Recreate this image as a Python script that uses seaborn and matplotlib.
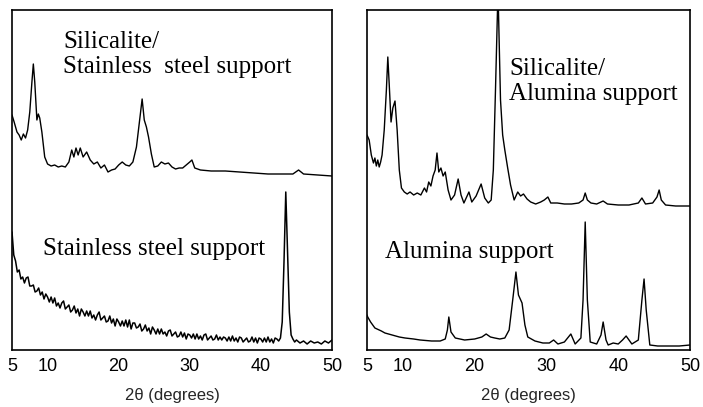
import matplotlib
matplotlib.use("Agg")
import matplotlib.pyplot as plt
import seaborn as sns
import pandas as pd

# ---- data (2theta in degrees, intensity in arbitrary units) ----
ss_sil_theta = [5.0, 5.3, 5.7, 6.0, 6.3, 6.6, 6.9, 7.2, 7.5, 7.8, 8.0, 8.2, 8.5, 8.7, 8.9, 9.2, 9.6,
                10.0, 10.5, 11.0, 11.5, 12.0, 12.5, 13.0, 13.4, 13.7, 14.0, 14.3, 14.6, 15.0, 15.5,
                16.0, 16.5, 17.0, 17.5, 18.0, 18.5, 19.0, 19.5, 20.0, 20.5, 21.0, 21.5, 22.0, 22.5,
                23.0, 23.3, 23.6, 23.9, 24.2, 24.6, 25.0, 25.5, 26.0, 26.5, 27.0, 27.5, 28.0, 28.5,
                29.0, 29.5, 30.0, 30.3, 30.7, 31.5, 33.0, 35.0, 37.0, 39.0, 41.0, 43.0, 44.5, 45.3,
                46.0, 48.0, 50.0]
ss_sil_int = [235, 228, 218, 215, 210, 216, 212, 220, 238, 268, 286, 268, 230, 236, 232, 218, 193,
              186, 184, 185, 183, 184, 183, 188, 200, 193, 202, 195, 202, 193, 198,
              190, 186, 188, 182, 185, 178, 180, 181, 185, 188, 185, 184, 188, 203,
              233, 251, 230, 223, 213, 196, 183, 184, 188, 186, 187, 183, 181, 182,
              182, 185, 188, 190, 182, 180, 179, 179, 178, 177, 176, 176, 176, 180,
              176, 175, 174]

ss_theta = [5.0, 5.25, 5.5, 5.75, 6.0, 6.25, 6.5, 6.75, 7.0, 7.25, 7.5, 7.75, 8.0, 8.25, 8.5, 8.75,
            9.0, 9.25, 9.5, 9.75, 10.0, 10.25, 10.5, 10.75, 11.0, 11.25, 11.5, 11.75, 12.0, 12.25,
            12.5, 12.75, 13.0, 13.25, 13.5, 13.75, 14.0, 14.25, 14.5, 14.75, 15.0, 15.25, 15.5,
            15.75, 16.0, 16.25, 16.5, 16.75, 17.0, 17.25, 17.5, 17.75, 18.0, 18.25, 18.5, 18.75,
            19.0, 19.25, 19.5, 19.75, 20.0, 20.25, 20.5, 20.75, 21.0, 21.25, 21.5, 21.75, 22.0,
            22.25, 22.5, 22.75, 23.0, 23.25, 23.5, 23.75, 24.0, 24.25, 24.5, 24.75, 25.0, 25.25,
            25.5, 25.75, 26.0, 26.25, 26.5, 26.75, 27.0, 27.25, 27.5, 27.75, 28.0, 28.25, 28.5,
            28.75, 29.0, 29.25, 29.5, 29.75, 30.0, 30.25, 30.5, 30.75, 31.0, 31.25, 31.5, 31.75,
            32.0, 32.25, 32.5, 32.75, 33.0, 33.25, 33.5, 33.75, 34.0, 34.25, 34.5, 34.75, 35.0,
            35.25, 35.5, 35.75, 36.0, 36.25, 36.5, 36.75, 37.0, 37.25, 37.5, 37.75, 38.0, 38.25,
            38.5, 38.75, 39.0, 39.25, 39.5, 39.75, 40.0, 40.25, 40.5, 40.75, 41.0, 41.25, 41.5,
            41.75, 42.0, 42.25, 42.5, 42.75, 43.0, 43.25, 43.5, 43.75, 44.0, 44.25, 44.5, 44.75,
            45.0, 45.5, 46.0, 46.5, 47.0, 47.5, 48.0, 48.5, 49.0, 49.5, 50.0]
ss_int = [118, 95, 89, 78, 80, 71, 73, 67, 72, 73, 64, 64, 65, 58, 59, 62,
          55, 58, 51, 56, 53, 48, 53, 47, 52, 44, 47, 42, 47, 49,
          41, 43, 45, 38, 40, 44, 37, 41, 34, 41, 38, 34, 39,
          34, 39, 32, 35, 30, 35, 38, 30, 32, 34, 28, 29, 34,
          27, 31, 24, 31, 28, 24, 29, 24, 30, 23, 30, 21, 27,
          27, 22, 23, 26, 19, 21, 25, 19, 22, 16, 23, 20, 16,
          21, 16, 21, 16, 18, 14, 19, 20, 14, 16, 18, 13, 14,
          18, 13, 17, 11, 16, 15, 12, 16, 11, 16, 11, 14, 10,
          15, 16, 10, 12, 14, 10, 11, 15, 10, 13, 10, 13, 12,
          9, 13, 9, 14, 9, 12, 8, 13, 12, 8, 10, 12, 8,
          9, 13, 8, 12, 7, 12, 11, 8, 12, 8, 13, 8, 11,
          7, 12, 11, 9, 12, 28, 88, 158, 98, 38, 15, 11, 8,
          10, 7, 9, 6, 9, 7, 8, 6, 9, 7, 10]

al_sil_theta = [5.0, 5.3, 5.6, 5.9, 6.1, 6.3, 6.5, 6.7, 6.9, 7.1, 7.4, 7.7, 7.9, 8.1, 8.35, 8.6, 8.9,
                9.2, 9.5, 9.8, 10.2, 10.6, 11.0, 11.5, 12.0, 12.5, 13.0, 13.3, 13.6, 13.9, 14.2,
                14.5, 14.75, 15.0, 15.3, 15.6, 15.9, 16.3, 16.7, 17.2, 17.7, 18.1, 18.5, 19.2,
                19.6, 20.2, 20.9, 21.4, 21.9, 22.3, 22.6, 22.9, 23.25, 23.6, 23.9, 24.2, 24.6,
                25.0, 25.5, 26.0, 26.4, 26.8, 27.3, 27.8, 28.5, 29.2, 29.7, 30.2, 30.6, 31.5,
                32.5, 33.5, 34.5, 35.1, 35.4, 35.7, 36.2, 37.0, 37.9, 38.5, 40.0, 41.5, 42.8,
                43.3, 43.8, 44.8, 45.4, 45.7, 46.0, 46.6, 48.0, 50.0]
al_sil_int = [215, 210, 195, 187, 192, 184, 190, 183, 188, 195, 220, 260, 293, 265, 228, 242, 249,
              220, 180, 162, 158, 156, 158, 155, 157, 155, 162, 158, 168, 164, 174,
              180, 197, 178, 182, 174, 178, 160, 150, 155, 171, 155, 147, 158,
              148, 154, 166, 152, 147, 150, 180, 260, 360, 250, 215, 200, 182,
              165, 150, 158, 154, 156, 151, 148, 146, 148, 150, 153, 147, 147,
              146, 146, 147, 150, 157, 150, 147, 146, 149, 146, 145, 145, 147,
              152, 146, 147, 153, 160, 150, 145, 144, 144]

al_theta = [5.0, 5.1, 5.5, 6.1, 7.0, 7.5, 8.5, 9.5, 10.3, 11.5, 12.4, 14.0, 15.2, 15.9, 16.2, 16.4,
            16.7, 17.3, 18.6, 20.0, 21.0, 21.6, 22.2, 22.8, 23.5, 24.2, 24.8, 25.3, 25.75, 26.1,
            26.6, 27.0, 27.4, 28.4, 29.5, 30.4, 31.0, 31.6, 32.5, 33.4, 34.0, 34.8, 35.1, 35.4,
            35.7, 36.1, 37.0, 37.6, 37.9, 38.3, 38.6, 39.3, 40.0, 40.6, 41.1, 41.9, 42.8, 43.3,
            43.6, 43.9, 44.4, 45.5, 47.0, 48.5, 50.0]
al_int = [35, 33, 28, 22, 19, 17, 15, 13, 12, 11, 10, 9, 9, 11, 20, 33,
          18, 12, 10, 11, 13, 16, 13, 12, 11, 12, 20, 50, 78, 55,
          47, 25, 13, 9, 7, 7, 10, 6, 8, 16, 6, 12, 50, 128,
          50, 8, 6, 15, 28, 10, 5, 7, 6, 10, 14, 6, 10, 50,
          71, 40, 5, 4, 4, 4, 5]

tick_values = [5, 10, 20, 30, 40, 50]
x_label = "2θ (degrees)"

W, H = 703, 407
fig = plt.figure(figsize=(W / 100, H / 100), dpi=100)
sns.set_style("white")
plt.rcParams['font.family'] = ['Liberation Sans', 'DejaVu Sans']

serif = ['Liberation Serif', 'DejaVu Serif']


def px_axes(x0, x1, y0, y1):
    return fig.add_axes([x0 / W, 1 - y1 / H, (x1 - x0) / W, (y1 - y0) / H])


axL = px_axes(12, 332, 10, 350)
axR = px_axes(367, 690, 10, 350)

for ax, series in ((axL, [(ss_sil_theta, ss_sil_int, 1.0), (ss_theta, ss_int, 1.1)]),
                   (axR, [(al_sil_theta, al_sil_int, 1.0), (al_theta, al_int, 1.0)])):
    for th, it, lw in series:
        df = pd.DataFrame({"theta": th, "intensity": it})
        sns.lineplot(data=df, x="theta", y="intensity", ax=ax, color="black",
                     linewidth=lw, sort=False, estimator=None)
    ax.set_xlim(5, 50)
    ax.set_ylim(0, 340)
    ax.set_yticks([])
    ax.set_xticks(tick_values)
    ax.set_xticklabels([str(t) for t in tick_values], fontsize=13)
    ax.tick_params(axis="x", direction="in", length=4, width=1, pad=6, colors="black")
    ax.set_xlabel(x_label, fontsize=12, labelpad=9)
    ax.set_ylabel("")
    for s in ax.spines.values():
        s.set_color("black")
        s.set_linewidth(1.2)
        s.set_visible(True)

tk = dict(fontsize=18, family=serif, va="baseline", ha="left", color="black")
axL.text(12.2, 302, "Silicalite/", **tk)
axL.text(12.2, 277, "Stainless  steel support", **tk)
axL.text(9.4, 95, "Stainless steel support", **tk)
axR.text(24.8, 275, "Silicalite/", **tk)
axR.text(24.8, 250, "Alumina support", **tk)
axR.text(7.5, 92, "Alumina support", **tk)

fig.savefig("out.png", dpi=100)
